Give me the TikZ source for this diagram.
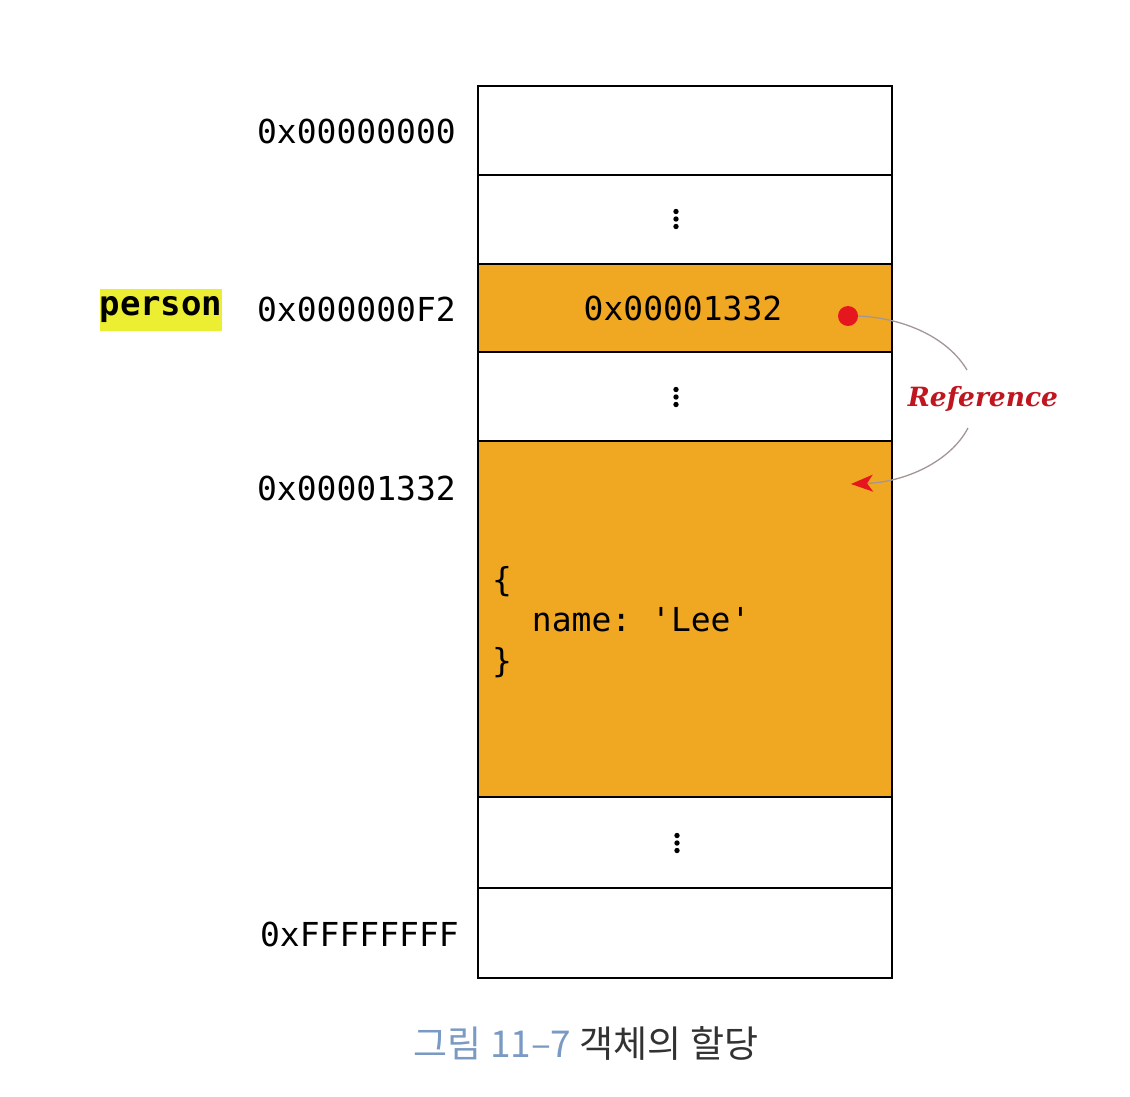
\documentclass[tikz,border=0pt]{standalone}
\usepackage{fontspec}
\setmonofont{DejaVu Sans Mono}
\newfontfamily\krfont{Noto Sans CJK KR}
\newfontfamily\reffont{DejaVu Serif}
\usetikzlibrary{arrows.meta}
\definecolor{memorange}{RGB}{240,168,35}
\definecolor{hilite}{RGB}{236,238,50}
\definecolor{refred}{RGB}{192,22,32}
\definecolor{dotred}{RGB}{230,22,30}
\definecolor{capblue}{RGB}{122,154,196}
\definecolor{capgray}{RGB}{50,50,50}
\definecolor{curvegray}{RGB}{165,150,150}
\begin{document}
\begin{tikzpicture}[x=1pt,y=-1pt,
  cell/.style={draw=black, line width=2.2pt, minimum width=414pt, inner sep=0pt, fill=white},
  used/.style={cell, fill=memorange},
  addr/.style={anchor=east, inner sep=0pt, font=\ttfamily\fontsize{33}{38}\selectfont},
  code/.style={inner sep=0pt, font=\ttfamily\fontsize{33}{40.5}\selectfont},
  vdot/.style={fill=black},
  refline/.style={draw=curvegray, line width=1.3pt},
]
\useasboundingbox (0,0) rectangle (1130,1096);
\fill[white] (0,0) rectangle (1130,1096);

% memory cells
\node[cell, minimum height=89pt] (r1) at (685,130.5) {};
\node[cell, minimum height=89pt] (r2) at (685,219.5) {};
\node[used, minimum height=88pt] (r3) at (685,308) {};
\node[cell, minimum height=89pt] (r4) at (685,396.5) {};
\node[used, minimum height=356pt] (r5) at (685,619) {};
\node[cell, minimum height=91pt] (r6) at (685,842.5) {};
\node[cell, minimum height=90pt] (r7) at (685,933) {};

% vertical ellipses
\foreach \cx/\cy in {676/219, 676/397, 677/843}{
  \fill[vdot] (\cx,\cy-7.5) circle (2.7);
  \fill[vdot] (\cx,\cy) circle (2.7);
  \fill[vdot] (\cx,\cy+7.5) circle (2.7);
}

% addresses
\node[addr] (a1) at (456,131) {0x00000000};
\node[addr] (a3) at (456,309) {0x000000F2};
\node[addr] (a5) at (456,488) {0x00001332};
\node[addr] (a7) at (459,934) {0xFFFFFFFF};

% variable name
\node[fill=hilite, minimum width=122pt, minimum height=42pt, inner sep=0pt,
      font=\ttfamily\bfseries\fontsize{34}{38}\selectfont] (person) at (161,310) {person};

% cell contents
\node[code] (val) at (683,308) {0x00001332};
\node[code, anchor=north west, align=left] (obj) at (492,566) {\{\\\ \ name: 'Lee'\\\}};

% reference
\node[circle, fill=dotred, minimum size=20pt, inner sep=0pt] (dot) at (848,316) {};
\node[text=refred, inner sep=0pt, font=\reffont\bfseries\itshape\fontsize{26.5}{30}\selectfont] (reftext) at (983,399) {Reference};
\coordinate (c1) at (967,370);
\coordinate (c2) at (968,428);
\coordinate (tip) at (851,484);
\draw[refline] (dot.east) .. controls (905,318) and (948,338) .. (c1);
\draw[refline, -{Stealth[length=22pt, width=17pt, inset=6pt, color=dotred]}] (c2) .. controls (950,462) and (905,482) .. (tip);

% caption
\node[inner sep=0pt, font=\krfont\fontsize{37}{42}\selectfont] (cap) at (586,1043)
  {\textcolor{capblue}{그림 11–7} \textcolor{capgray}{객체의 할당}};
\end{tikzpicture}
\end{document}
